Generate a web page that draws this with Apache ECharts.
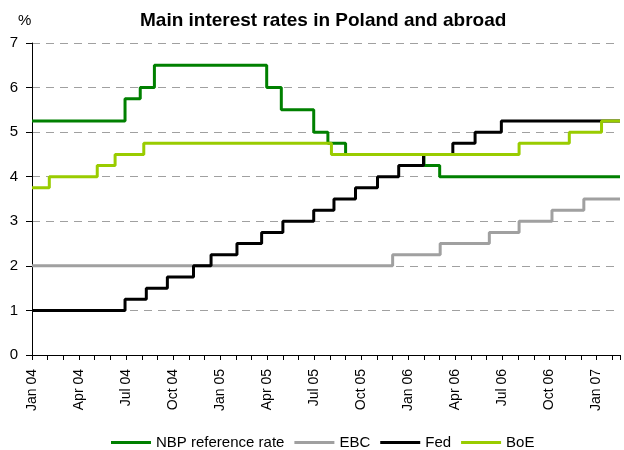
<!DOCTYPE html>
<html>
<head>
<meta charset="utf-8">
<script src="https://cdn.jsdelivr.net/npm/echarts@6/dist/echarts.min.js"></script>
<style>
  html, body { margin: 0; padding: 0; background: #fff; }
  #chart { width: 624px; height: 450px; }
</style>
</head>
<body>
<div id="chart"></div>
<script>
// rate changes: date from which the new rate applies
const nbpDates = ['2004-01-01', '2004-06-29', '2004-07-29', '2004-08-26', '2005-03-31', '2005-04-28', '2005-06-30', '2005-07-28', '2005-09-01', '2006-02-01', '2006-03-01'];
const nbpRates = [5.25, 5.75, 6.0, 6.5, 6.0, 5.5, 5.0, 4.75, 4.5, 4.25, 4.0];

const ebcDates = ['2004-01-01', '2005-12-01', '2006-03-02', '2006-06-06', '2006-08-03', '2006-10-06', '2006-12-07'];
const ebcRates = [2.0, 2.25, 2.5, 2.75, 3.0, 3.25, 3.5];

const fedDates = ['2004-01-01', '2004-06-29', '2004-08-10', '2004-09-20', '2004-11-10', '2004-12-14', '2005-02-03', '2005-03-21', '2005-05-01', '2005-06-30', '2005-08-09', '2005-09-20', '2005-11-02', '2005-12-13', '2006-01-31', '2006-03-27', '2006-05-09', '2006-06-29'];
const fedRates = [1.0, 1.25, 1.5, 1.75, 2.0, 2.25, 2.5, 2.75, 3.0, 3.25, 3.5, 3.75, 4.0, 4.25, 4.5, 4.75, 5.0, 5.25];

const boeDates = ['2004-01-01', '2004-02-04', '2004-05-06', '2004-06-10', '2004-08-05', '2005-08-04', '2006-08-03', '2006-11-09', '2007-01-11'];
const boeRates = [3.75, 4.0, 4.25, 4.5, 4.75, 4.5, 4.75, 5.0, 5.25];

const endDate = '2007-02-15';
const tickMonths = ['Jan', 'Apr', 'Jul', 'Oct'];
const yTicks = [0, 1, 2, 3, 4, 5, 6, 7];

// date -> months since Jan 2004
function toMonth(s) {
    const [y, m, d] = s.split('-').map(Number);
    const days = new Date(y, m, 0).getDate();
    return (y - 2004) * 12 + (m - 1) + (d - 1) / days;
}

function steps(dates, rates) {
    const pts = dates.map((d, i) => [toMonth(d), rates[i]]);
    pts.push([toMonth(endDate), rates[rates.length - 1]]);
    return pts;
}

const chart = echarts.init(document.getElementById('chart'));
const font = 'Liberation Sans, Arial, sans-serif';

function line(name, color, data) {
    return {
        name: name,
        type: 'line',
        step: 'end',
        showSymbol: false,
        data: data,
        color: color,
        lineStyle: { color: color, width: 3 }
    };
}

chart.setOption({
    animation: false,
    title: {
        text: 'Main interest rates in Poland and abroad',
        left: 140,
        top: 11,
        padding: 0,
        textStyle: { fontFamily: font, fontSize: 19, fontWeight: 'bold', color: '#000' }
    },
    graphic: [{
        type: 'text',
        left: 18,
        top: 13,
        style: { text: '%', font: '15px ' + font, fill: '#000' }
    }],
    legend: {
        left: 111,
        top: 435,
        padding: 0,
        itemWidth: 40,
        itemHeight: 3,
        itemGap: 10,
        icon: 'rect',
        textStyle: { fontFamily: font, fontSize: 15, color: '#000' },
        data: ['NBP reference rate', 'EBC', 'Fed', 'BoE']
    },
    grid: { left: 32, right: 4, top: 43, bottom: 95 },
    xAxis: {
        type: 'value',
        min: 0,
        max: toMonth(endDate),
        interval: 3,
        axisLine: { show: true, lineStyle: { color: '#000', width: 1 } },
        axisTick: { show: true, length: 5, lineStyle: { color: '#000' } },
        minorTick: { show: true, splitNumber: 3, length: 5, lineStyle: { color: '#000' } },
        splitLine: { show: false },
        axisLabel: {
            rotate: 90,
            margin: 14,
            showMaxLabel: false,
            fontFamily: font,
            fontSize: 14,
            color: '#000',
            formatter: v => {
                if (v % 3 !== 0) return '';
                const yr = 4 + Math.floor(v / 12);
                return tickMonths[(v % 12) / 3] + ' ' + String(yr).padStart(2, '0');
            }
        }
    },
    yAxis: {
        type: 'value',
        min: yTicks[0],
        max: yTicks[yTicks.length - 1],
        interval: 1,
        axisLine: { show: true, lineStyle: { color: '#000', width: 1 } },
        axisTick: { show: true, length: 6, lineStyle: { color: '#000' } },
        splitLine: { show: true, lineStyle: { color: '#a0a0a0', type: [8, 6], width: 1 } },
        axisLabel: { margin: 14, fontFamily: font, fontSize: 15, color: '#000' }
    },
    series: [
        line('NBP reference rate', '#008000', steps(nbpDates, nbpRates)),
        line('EBC', '#a0a0a0', steps(ebcDates, ebcRates)),
        line('Fed', '#000000', steps(fedDates, fedRates)),
        line('BoE', '#99cc00', steps(boeDates, boeRates))
    ]
});
</script>
</body>
</html>
